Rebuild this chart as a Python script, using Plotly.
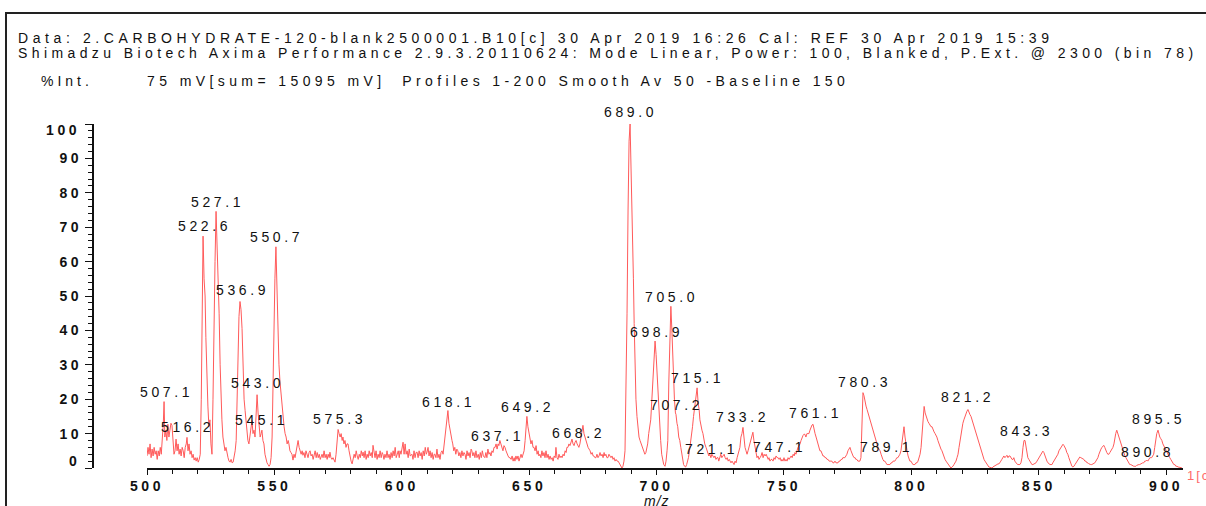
import plotly.graph_objects as go

# ---------------- data ----------------
spectrum_mz = [
    500.0, 500.4, 500.8, 501.2, 501.6, 502.0, 502.4, 502.8, 503.2, 503.6,
    504.0, 504.4, 504.8, 505.2, 505.6, 506.0, 506.4, 506.7, 507.0, 507.4,
    507.8, 508.2, 508.6, 509.0, 509.4, 509.8, 510.2, 510.6, 511.0, 511.4,
    511.8, 512.2, 512.6, 513.0, 513.4, 513.8, 514.2, 514.6, 515.0, 515.4,
    515.7, 516.1, 516.5, 516.9, 517.3, 517.7, 518.1, 518.5, 518.9, 519.3,
    519.7, 520.1, 520.5, 520.9, 521.3, 521.6, 522.0, 522.4, 522.8, 523.1,
    523.5, 523.9, 524.3, 524.7, 525.1, 525.5, 525.9, 526.3, 526.7, 527.1,
    527.5, 527.9, 528.3, 528.7, 529.0, 529.4, 529.8, 530.2, 530.6, 531.0,
    531.4, 531.8, 532.2, 532.6, 533.0, 533.4, 533.8, 534.2, 534.6, 535.0,
    535.4, 535.7, 536.1, 536.5, 536.9, 537.3, 537.7, 538.1, 538.5, 538.9,
    539.2, 539.6, 540.0, 540.4, 540.8, 541.2, 541.6, 542.0, 542.4, 542.8,
    543.2, 543.6, 544.0, 544.4, 544.8, 545.1, 545.5, 545.9, 546.3, 546.7,
    547.1, 547.5, 547.9, 548.3, 548.7, 549.1, 549.5, 549.8, 550.2, 550.6,
    551.0, 551.4, 551.8, 552.2, 552.6, 553.0, 553.4, 553.8, 554.2, 554.6,
    555.0, 555.4, 555.7, 556.1, 556.5, 556.9, 557.3, 557.7, 558.1, 558.5,
    558.9, 559.3, 559.7, 560.1, 560.5, 560.9, 561.2, 561.6, 562.0, 562.4,
    562.8, 563.2, 563.6, 564.0, 564.4, 564.8, 565.2, 565.6, 566.0, 566.4,
    566.8, 567.2, 567.6, 568.0, 568.4, 568.7, 569.1, 569.5, 569.9, 570.3,
    570.7, 571.1, 571.5, 571.8, 572.2, 572.6, 573.0, 573.4, 573.8, 574.2,
    574.6, 575.0, 575.4, 575.8, 576.2, 576.6, 576.9, 577.3, 577.7, 578.1,
    578.5, 578.9, 579.3, 579.7, 580.1, 580.5, 580.9, 581.3, 581.7, 582.1,
    582.5, 582.9, 583.3, 583.7, 584.1, 584.5, 584.8, 585.2, 585.6, 586.0,
    586.4, 586.8, 587.2, 587.6, 588.0, 588.4, 588.7, 589.1, 589.5, 589.9,
    590.3, 590.7, 591.1, 591.5, 591.9, 592.3, 592.6, 593.0, 593.4, 593.8,
    594.2, 594.6, 595.0, 595.4, 595.8, 596.2, 596.6, 597.0, 597.4, 597.8,
    598.2, 598.6, 599.0, 599.3, 599.7, 600.1, 600.5, 600.9, 601.3, 601.7,
    602.1, 602.5, 602.9, 603.3, 603.7, 604.0, 604.4, 604.8, 605.2, 605.6,
    606.0, 606.4, 606.8, 607.2, 607.6, 608.0, 608.4, 608.8, 609.2, 609.6,
    609.9, 610.3, 610.7, 611.1, 611.5, 611.9, 612.3, 612.7, 613.0, 613.4,
    613.8, 614.2, 614.6, 615.0, 615.4, 615.8, 616.2, 616.6, 617.0, 617.3,
    617.7, 618.1, 618.5, 618.9, 619.3, 619.7, 620.0, 620.4, 620.8, 621.2,
    621.6, 622.0, 622.4, 622.8, 623.2, 623.6, 624.0, 624.4, 624.8, 625.2,
    625.6, 626.0, 626.4, 626.8, 627.2, 627.5, 627.9, 628.3, 628.7, 629.1,
    629.5, 630.0, 630.4, 630.8, 631.2, 631.6, 632.0, 632.3, 632.6, 633.0,
    633.4, 633.8, 634.2, 634.6, 635.0, 635.4, 635.8, 636.2, 636.6, 637.0,
    637.4, 637.8, 638.1, 638.5, 638.9, 639.3, 639.7, 640.1, 640.5, 640.9,
    641.3, 641.7, 642.1, 642.5, 642.9, 643.3, 643.7, 644.1, 644.4, 644.8,
    645.2, 645.6, 646.0, 646.4, 646.8, 647.2, 647.6, 648.0, 648.4, 648.7,
    649.1, 649.5, 649.9, 650.3, 650.7, 651.1, 651.5, 651.9, 652.3, 652.7,
    653.1, 653.5, 653.8, 654.2, 654.6, 655.0, 655.4, 655.8, 656.2, 656.6,
    657.0, 657.4, 657.8, 658.2, 658.6, 659.0, 659.4, 659.8, 660.2, 660.5,
    660.9, 661.3, 661.7, 662.1, 662.5, 662.9, 663.3, 663.7, 664.1, 664.5,
    664.8, 665.2, 665.6, 666.0, 666.4, 666.8, 667.2, 667.6, 668.0, 668.4,
    668.8, 669.1, 669.5, 669.9, 670.3, 670.7, 671.1, 671.5, 671.9, 672.3,
    672.7, 673.1, 673.5, 673.9, 674.3, 674.7, 675.1, 675.4, 675.8, 676.2,
    676.6, 677.0, 677.4, 677.8, 678.2, 678.6, 679.0, 679.4, 679.7, 680.1,
    680.5, 680.9, 681.3, 681.7, 682.1, 682.5, 682.9, 683.3, 683.7, 684.1,
    684.5, 684.9, 685.3, 685.7, 686.0, 686.4, 686.8, 687.2, 687.6, 688.0,
    688.4, 688.8, 689.2, 689.6, 690.0, 690.3, 690.6, 690.9, 691.2, 691.5,
    691.9, 692.3, 692.7, 693.1, 693.5, 693.9, 694.3, 694.7, 695.1, 695.4,
    695.8, 696.2, 696.5, 696.9, 697.3, 697.7, 698.0, 698.3, 698.7, 699.0,
    699.4, 699.8, 700.1, 700.5, 700.9, 701.2, 701.6, 702.0, 702.4, 702.8,
    703.3, 703.7, 704.1, 704.4, 704.8, 705.2, 705.6, 706.0, 706.3, 706.7,
    707.0, 707.4, 707.6, 708.0, 708.3, 708.7, 709.1, 709.5, 709.9, 710.2,
    710.6, 711.0, 711.4, 711.8, 712.2, 712.5, 712.9, 713.3, 713.7, 714.1,
    714.5, 714.9, 715.3, 715.6, 715.9, 716.3, 716.7, 717.0, 717.4, 717.8,
    718.2, 718.6, 718.9, 719.4, 719.8, 720.1, 720.5, 720.9, 721.3, 721.7,
    722.1, 722.5, 722.9, 723.3, 723.7, 724.1, 724.4, 724.8, 725.2, 725.6,
    726.0, 726.5, 726.9, 727.3, 727.7, 728.1, 728.5, 728.8, 729.2, 729.6,
    730.0, 730.4, 730.8, 731.2, 731.6, 732.0, 732.4, 732.7, 733.1, 733.5,
    733.9, 734.3, 734.7, 735.1, 735.5, 735.9, 736.3, 736.7, 737.1, 737.4,
    737.8, 738.2, 738.6, 739.0, 739.4, 739.8, 740.2, 740.6, 741.0, 741.4,
    741.8, 742.2, 742.6, 743.0, 743.4, 743.8, 744.1, 744.5, 744.9, 745.3,
    745.7, 746.1, 746.5, 746.9, 747.3, 747.7, 748.1, 748.5, 748.9, 749.2,
    749.6, 750.0, 750.4, 750.8, 751.2, 751.6, 752.0, 752.4, 752.8, 753.2,
    753.6, 754.0, 754.3, 754.7, 755.1, 755.5, 755.9, 756.3, 756.7, 757.1,
    757.5, 757.8, 758.2, 758.6, 759.0, 759.4, 759.8, 760.2, 760.6, 761.0,
    761.4, 761.8, 762.2, 762.6, 763.0, 763.3, 763.7, 764.1, 764.5, 764.9,
    765.3, 765.7, 766.1, 766.5, 766.9, 767.3, 767.7, 768.1, 768.4, 768.8,
    769.2, 769.6, 770.0, 770.4, 770.8, 771.2, 771.6, 772.0, 772.4, 772.8,
    773.1, 773.5, 773.9, 774.3, 774.7, 775.1, 775.5, 775.9, 776.3, 776.7,
    777.1, 777.5, 777.9, 778.2, 778.6, 779.0, 779.4, 779.8, 780.2, 780.6,
    781.0, 781.4, 781.8, 782.2, 782.6, 783.0, 783.3, 783.7, 784.1, 784.5,
    784.9, 785.3, 785.7, 786.1, 786.5, 786.9, 787.3, 787.7, 788.1, 788.4,
    788.8, 789.2, 789.6, 790.0, 790.4, 790.8, 791.2, 791.6, 792.0, 792.4,
    792.8, 793.2, 793.5, 793.9, 794.3, 794.7, 795.1, 795.5, 795.9, 796.3,
    796.7, 797.1, 797.5, 797.9, 798.3, 798.7, 799.0, 799.4, 799.8, 800.2,
    800.6, 801.0, 801.4, 801.8, 802.2, 802.6, 803.0, 803.4, 803.8, 804.2,
    804.6, 805.0, 805.4, 805.8, 806.1, 806.5, 806.9, 807.3, 807.7, 808.1,
    808.5, 808.9, 809.3, 809.7, 810.0, 810.4, 810.8, 811.2, 811.6, 812.0,
    812.4, 812.8, 813.2, 813.6, 814.0, 814.4, 814.8, 815.1, 815.5, 815.9,
    816.3, 816.7, 817.1, 817.5, 817.9, 818.3, 818.7, 819.1, 819.5, 819.9,
    820.2, 820.6, 821.0, 821.4, 821.8, 822.2, 822.6, 823.0, 823.4, 823.8,
    824.2, 824.6, 825.0, 825.3, 825.7, 826.1, 826.5, 826.9, 827.3, 827.7,
    828.1, 828.5, 828.9, 829.3, 829.7, 830.1, 830.4, 830.8, 831.2, 831.6,
    832.0, 832.4, 832.8, 833.2, 833.6, 834.0, 834.4, 834.8, 835.1, 835.5,
    835.9, 836.3, 836.7, 837.1, 837.5, 837.9, 838.3, 838.7, 839.1, 839.5,
    839.9, 840.2, 840.6, 841.0, 841.4, 841.8, 842.2, 842.6, 843.0, 843.4,
    843.8, 844.2, 844.6, 845.0, 845.3, 845.7, 846.1, 846.5, 846.9, 847.3,
    847.7, 848.1, 848.5, 848.9, 849.3, 849.7, 850.1, 850.4, 850.8, 851.2,
    851.6, 852.0, 852.4, 852.8, 853.2, 853.6, 854.0, 854.4, 854.8, 855.2,
    855.5, 855.9, 856.3, 856.7, 857.1, 857.5, 857.9, 858.3, 858.7, 859.1,
    859.5, 859.9, 860.3, 860.6, 861.0, 861.4, 861.8, 862.2, 862.6, 863.0,
    863.4, 863.8, 864.2, 864.6, 865.0, 865.3, 865.7, 866.1, 866.5, 866.9,
    867.3, 867.7, 868.1, 868.5, 868.9, 869.3, 869.7, 870.0, 870.4, 870.8,
    871.2, 871.6, 872.0, 872.4, 872.8, 873.2, 873.6, 874.0, 874.4, 874.8,
    875.1, 875.5, 875.9, 876.3, 876.7, 877.1, 877.5, 877.9, 878.3, 878.7,
    879.1, 879.5, 879.9, 880.2, 880.6, 881.0, 881.4, 881.8, 882.2, 882.6,
    883.0, 883.4, 883.8, 884.2, 884.6, 884.9, 885.3, 885.7, 886.1, 886.5,
    886.9, 887.3, 887.7, 888.1, 888.5, 888.9, 889.3, 889.6, 890.0, 890.4,
    890.8, 891.2, 891.6, 892.0, 892.4, 892.8, 893.2, 893.6, 894.0, 894.3,
    894.7, 895.1, 895.5, 895.9, 896.3, 896.8, 897.1, 897.5, 897.9, 898.3,
    898.7, 899.0, 899.4, 899.8, 900.2, 900.6, 901.0, 901.4, 901.8, 902.2,
    902.6, 903.0, 903.4, 903.8, 904.2, 904.6, 905.0, 905.4, 905.8, 906.2,
]

spectrum_int = [
    3.5, 6, 4, 7, 3, 5.5, 3.5, 6, 4, 5,
    2.5, 5, 3.5, 6, 4, 8, 13, 19.3, 9, 11,
    8, 12.7, 9, 11, 13, 12.4, 6, 4, 5, 8.4,
    5, 7, 4, 5.5, 3.5, 6, 5, 3, 6, 7,
    8.9, 5, 7, 4, 5, 3, 4, 2.3, 3, 2,
    3, 1.7, 2.5, 4, 20, 43, 67.4, 55, 50, 38,
    26, 18, 12, 14, 7, 4, 20, 45, 60, 74.6,
    65.7, 58, 45, 30, 21, 14, 9, 7, 5, 6,
    4, 3, 2, 1.7, 2.5, 1.5, 1.7, 3, 5, 8,
    20, 35.7, 44, 48.4, 46, 40.6, 26, 20, 16.7, 13,
    11, 8, 7, 9, 12, 13.8, 10, 11, 9, 15,
    21.3, 16, 12.7, 9, 10, 11, 8, 7, 4, 2.3,
    1.5, 1, 0.5, 1, 3, 9, 25, 45, 55, 64.3,
    50, 40, 30, 25, 21.3, 18, 14.7, 12, 10, 9,
    7, 8, 7, 5, 4.5, 4, 2.3, 4, 3, 5,
    6, 8, 6, 5, 4, 5, 3.7, 4.5, 3, 5,
    4, 3, 4.5, 5, 3.5, 4, 2.5, 3.5, 5, 3,
    4.5, 3, 4, 2.5, 3.5, 4, 3, 5, 3, 4,
    2.5, 4, 3, 4.6, 3, 2.5, 3, 2, 1.7, 4,
    8, 11.2, 10, 9, 10, 8, 9, 7, 8, 6,
    7, 7, 5, 3, 2, 1.2, 2.5, 4, 3, 5,
    3.5, 2.5, 4, 3, 5, 3.5, 4.6, 3, 5, 2.5,
    4, 3, 5, 3.5, 4.5, 3, 6.6, 4, 3, 5,
    2.5, 4, 3, 5, 3, 4.5, 4, 2.5, 4, 3,
    5, 3, 4, 2.5, 4.5, 3, 5, 3.5, 6, 3,
    4.5, 5, 3, 5, 4, 6, 7.5, 4, 7, 4,
    5, 3, 5.5, 3.5, 4, 4, 2.5, 5, 3, 4.5,
    4.6, 3, 5, 3.5, 4.5, 2.5, 5, 3.5, 6, 4,
    4.6, 6, 3.5, 5, 3, 4.5, 2.5, 4, 4, 3,
    5.5, 3, 4, 2.5, 4.5, 5, 4, 7, 10, 12,
    15, 16.7, 13, 11, 9, 8, 7, 5, 6, 4,
    5.5, 5, 3.5, 4.5, 3, 5, 3.5, 4.5, 4, 2.5,
    5, 3.5, 4.5, 3, 5.5, 5, 3.5, 4.5, 3, 5,
    3, 4, 2.5, 4.5, 3, 5, 3.5, 3, 3, 4.5,
    3, 5.5, 4, 4.5, 3.5, 5, 4.5, 6, 6, 7,
    5.5, 7, 6.5, 8, 7, 6, 5, 6.5, 6, 5,
    4, 3.5, 3, 3, 2.5, 3.5, 2, 3, 2, 3.5,
    2.5, 3.5, 2, 3, 4, 3, 4.5, 5, 8, 12,
    15, 12, 10, 9, 7, 8, 6, 6, 5, 6.5,
    4, 5, 3.5, 4, 3, 5, 3.5, 4.5, 3, 5,
    3, 4, 2.5, 3.5, 2.5, 3, 2, 3.5, 3, 6,
    3, 2.5, 4, 3, 3.5, 3, 4, 3.5, 5, 4.5,
    6, 6, 7, 6.5, 8, 8.4, 7, 6.5, 7.5, 8,
    7, 6.5, 6, 7, 9, 11, 12.4, 10, 9, 8,
    6.5, 6, 5.5, 5, 4, 4.5, 3.5, 3.5, 3, 3,
    4, 3, 3.5, 4.5, 3.5, 4, 3, 4.5, 3.5, 4,
    3, 3, 4, 3.5, 3, 3.5, 2.5, 3, 2, 2.5,
    2, 2, 1.5, 1, 0.5, 0, 0.5, 2, 5, 20,
    45, 75, 95, 100, 88, 78, 72, 55, 42, 30,
    20, 15, 11, 9, 8, 7, 6, 5, 4.5, 4,
    4.5, 6, 7, 10, 12, 14, 18, 22, 28, 34,
    36.9, 33, 28, 22, 15, 12, 8, 4, 2, 1,
    0.5, 2, 5, 8, 25, 42, 47, 40, 33, 25,
    20, 16, 15.6, 13, 12, 9, 8, 6, 4, 2,
    1, 0.5, 0.3, 1, 2, 3, 5, 7, 9, 12,
    15, 18, 21, 22, 23.3, 19, 17, 14, 12, 11,
    10, 8, 7, 6, 5, 4.5, 3.5, 4, 3, 4,
    3.5, 3, 3.5, 2.5, 3, 3, 2, 3, 4, 3,
    3.5, 4, 3, 2.5, 3, 2, 2.5, 2, 1.5, 2,
    1.5, 1, 2, 1.5, 3, 4, 5, 6, 9, 10,
    11.8, 8, 6, 5, 4, 5, 6, 7, 8.5, 9.5,
    10.4, 8, 6, 4, 3, 3.5, 2.5, 3, 3.5, 4.5,
    3, 4, 3.5, 4, 3, 2.5, 3, 2, 2.5, 2.5,
    2, 3, 2.5, 3.5, 3, 3, 2.5, 3, 2, 2.5,
    2, 3, 2, 2.5, 2, 3, 2.5, 3, 3.5, 3,
    4, 3.5, 4.5, 4, 5.5, 6, 6.5, 7, 8, 9,
    9.5, 9.8, 9.8, 9, 10, 10, 10, 11, 12, 12.5,
    12.7, 11, 10, 9, 8, 7, 6, 5, 5, 4,
    3.5, 3.5, 3, 3, 2.5, 2.5, 2, 2, 2, 2,
    1.5, 1.5, 2, 1.5, 1.5, 1.5, 2, 2, 2.5, 2.5,
    3, 3, 3, 3.5, 4, 5, 5.5, 6, 5, 4,
    3.5, 3, 3, 2.5, 2.5, 2, 2, 2, 3, 12,
    21.9, 21, 19, 18, 17, 16, 15, 14, 12.5, 11.5,
    10.5, 9.5, 9, 8, 7, 6, 5.5, 5, 4, 3,
    2.5, 2, 2, 1.5, 1, 1, 1, 1, 1.5, 1.5,
    2, 2, 2, 2.5, 3, 3, 3.5, 4, 5, 7,
    10, 12, 9, 6, 5, 3.5, 2.5, 2, 2, 1.5,
    1, 1, 1, 1.5, 1.5, 2, 3, 4, 6, 10,
    15, 17.9, 16, 15, 14, 13.5, 13, 12.5, 12, 12,
    11, 10.5, 10, 9.5, 9, 8, 7, 6, 5.5, 5,
    4, 3, 2.5, 2, 1.5, 1, 0.5, 0.2, 0, 0.3,
    0.5, 1, 1.5, 2, 3, 4, 6, 8, 10, 12,
    13, 14, 15, 16, 16.5, 17, 16, 15.5, 15, 14,
    13, 12, 11, 10, 9, 8, 7, 6, 5, 4,
    3, 2.5, 2, 1.5, 1, 0.5, 0.3, 0.2, 0, 0,
    0.3, 0.5, 0.8, 1, 1, 1.2, 1.2, 1.5, 2, 2.5,
    3, 3.5, 3, 3.5, 3.7, 3, 3.5, 3.5, 3, 2.5,
    2.5, 3, 2, 1.5, 1.2, 1, 1, 1, 1.5, 3,
    6, 8, 8, 6, 4, 3, 2.5, 2, 1.5, 1,
    1, 1.2, 1.5, 1.5, 2, 2.5, 3, 3.5, 4, 4.5,
    4.9, 4.5, 3.5, 2.5, 2, 1.5, 1.2, 1, 1, 1,
    1.5, 2, 2.5, 3, 3.5, 4, 5, 5.5, 6, 6.5,
    6.9, 6.5, 6, 5.5, 4.5, 4, 3, 2, 1.5, 0.5,
    0.3, 0.5, 1, 1.5, 2, 2.5, 3, 3.2, 3, 2.8,
    2.5, 2.5, 2, 2, 1.5, 1.5, 1.2, 1, 1, 1,
    1.2, 1.5, 1.5, 2, 2.5, 3, 4, 5, 5.5, 6,
    6.3, 6.6, 6, 5, 4.5, 4, 4, 4.5, 5, 5.5,
    6, 7, 9, 10, 11, 10, 9, 8, 7, 6,
    5, 4, 3.5, 3, 2.5, 2, 1.5, 1, 1, 0.8,
    0.5, 0.5, 0.5, 0.5, 0.8, 1, 1, 1, 1.2, 1.2,
    1.5, 1.5, 2, 2, 2.3, 2, 2.5, 3, 3, 3,
    3.5, 4, 6, 9, 10, 11, 10, 9, 8.5, 8,
    7, 6.5, 6, 5.5, 5, 4, 3.5, 3, 2.5, 2,
    1.5, 1, 1, 0.5, 0.5, 0.3, 0.2, 0.2, 0, 0,
]

peak_labels = ["507.1", "516.2", "522.6", "527.1", "536.9", "543.0", "545.1",
               "550.7", "575.3", "618.1", "637.1", "649.2", "668.2", "689.0",
               "698.9", "705.0", "707.2", "715.1", "721.1", "733.2", "747.1",
               "761.1", "780.3", "789.1", "821.2", "843.3", "890.8", "895.5"]
peak_label_mz = [507.5, 515.7, 522.4, 527.5, 537.3, 543.2, 545.1,
                 551.0, 575.4, 618.5, 637.4, 649.5, 669.2, 689.6,
                 699.8, 706.0, 708.0, 715.9, 721.7, 733.9, 748.4,
                 762.2, 781.4, 790.4, 822.2, 845.0, 892.5, 896.8]
peak_label_int = [19.9, 9.5, 68.0, 74.9, 49.3, 22.5, 11.5,
                  64.8, 11.8, 17.0, 6.9, 15.3, 7.8, 101.2,
                  37.2, 47.3, 16.1, 23.9, 3.2, 12.4, 3.7,
                  13.8, 22.8, 3.7, 18.2, 8.4, 2.3, 11.8]

x_tick_vals = [500, 550, 600, 650, 700, 750, 800, 850, 900]
y_tick_vals = [0, 10, 20, 30, 40, 50, 60, 70, 80, 90, 100]

header_line1 = "Data: 2.CARBOHYDRATE-120-blank2500001.B10[c] 30 Apr 2019 16:26 Cal: REF 30 Apr 2019 15:39"
header_line2 = "Shimadzu Biotech Axima Performance 2.9.3.20110624: Mode Linear, Power: 100, Blanked, P.Ext. @ 2300 (bin 78)"
header_yunit = "%Int."
header_line3 = "75 mV[sum= 15095 mV]  Profiles 1-200 Smooth Av 50 -Baseline 150"
x_title = "m/z"
trace_tag = "1[c]"

# ---------------- geometry / style ----------------
W, H = 1206, 506
L, R, T, B = 92, 1183, 124, 471
FONT = "Liberation Sans, Arial, sans-serif"
LS = "letter-spacing:3.6px"
PX_PER_UNIT = (B - T) / 100.0


def spaced(t, ls=LS):
    return f"<span style='{ls}'>{t}</span>"


def fx(px):
    return (px - L) / (R - L)


def fy(py):
    return (B - py) / (B - T)


fig = go.Figure()
fig.add_trace(go.Scatter(
    x=spectrum_mz, y=spectrum_int, mode="lines",
    line=dict(color="#ff5a5a", width=1),
    hoverinfo="skip", showlegend=False,
))

annotations = []
for t, x, y in zip(peak_labels, peak_label_mz, peak_label_int):
    annotations.append(dict(
        x=x, y=min(y, 100), xref="x", yref="y", text=spaced(t), showarrow=False,
        xanchor="center", yanchor="bottom",
        yshift=-2 + max(0.0, y - 100) * PX_PER_UNIT,
        font=dict(family=FONT, size=14, color="#111111"),
    ))

hdr_font = dict(family=FONT, size=14, color="#111111")
annotations += [
    dict(x=fx(16), y=fy(37), xref="paper", yref="paper",
         text=spaced(header_line1, "letter-spacing:4.6px"),
         showarrow=False, xanchor="left", yanchor="middle", font=hdr_font),
    dict(x=fx(16), y=fy(52), xref="paper", yref="paper",
         text=spaced(header_line2, "letter-spacing:4.4px"),
         showarrow=False, xanchor="left", yanchor="middle", font=hdr_font),
    dict(x=fx(39), y=fy(81), xref="paper", yref="paper",
         text=spaced(header_yunit, "letter-spacing:4px"),
         showarrow=False, xanchor="left", yanchor="middle", font=hdr_font),
    dict(x=fx(145), y=fy(81), xref="paper", yref="paper",
         text=spaced(header_line3, "letter-spacing:4.4px"),
         showarrow=False, xanchor="left", yanchor="middle", font=hdr_font),
    # end labels of the y axis are pulled inside the axis span
    dict(x=fx(82), y=fy(464), xref="paper", yref="paper", text=spaced("0"),
         showarrow=False, xanchor="right", yanchor="middle",
         font=dict(family=FONT, size=14, color="#111111", weight="bold")),
    dict(x=fx(82), y=fy(130), xref="paper", yref="paper", text=spaced("100"),
         showarrow=False, xanchor="right", yanchor="middle",
         font=dict(family=FONT, size=14, color="#111111", weight="bold")),
    dict(x=fx(657), y=fy(494), xref="paper", yref="paper",
         text=spaced(x_title, "letter-spacing:1px"),
         showarrow=False, xanchor="center", yanchor="top",
         font=dict(family=FONT, size=14, color="#111111", style="italic")),
    dict(x=fx(1185), y=fy(479), xref="paper", yref="paper",
         text=spaced(trace_tag, "letter-spacing:2px"),
         showarrow=False, xanchor="left", yanchor="middle",
         font=dict(family=FONT, size=13, color="#ff6a6a")),
]

fig.update_layout(
    width=W, height=H,
    margin=dict(l=L, r=W - R, t=T, b=H - B, pad=0),
    paper_bgcolor="white", plot_bgcolor="white",
    showlegend=False,
    annotations=annotations,
    shapes=[dict(type="rect", xref="paper", yref="paper",
                 x0=fx(6), x1=fx(1240), y0=fy(560), y1=fy(12),
                 line=dict(color="#222222", width=2), layer="above")],
    xaxis=dict(
        domain=[fx(147), 1], range=[500, 906.6],
        showline=True, linecolor="#111111", linewidth=1.5,
        showgrid=False, zeroline=False,
        ticks="outside", ticklen=5, tickwidth=1, tickcolor="#111111",
        tickmode="array", tickvals=x_tick_vals,
        ticktext=[spaced(str(v)) for v in x_tick_vals],
        tickfont=dict(family=FONT, size=14, color="#111111", weight="bold"),
        minor=dict(dtick=10, tick0=500, ticks="outside", ticklen=4,
                   tickwidth=1, tickcolor="#111111", showgrid=False),
        fixedrange=True,
    ),
    yaxis=dict(
        domain=[0, 1], range=[0, 100], anchor="free", position=0,
        showline=True, linecolor="#111111", linewidth=1.5,
        showgrid=False, zeroline=False,
        ticks="outside", ticklen=7, tickwidth=1, tickcolor="#111111",
        tickmode="array", tickvals=y_tick_vals,
        ticktext=["" if v in (0, 100) else spaced(str(v)) for v in y_tick_vals],
        tickfont=dict(family=FONT, size=14, color="#111111", weight="bold"),
        minor=dict(dtick=2, tick0=0, ticks="outside", ticklen=4,
                   tickwidth=1, tickcolor="#111111", showgrid=False),
        fixedrange=True,
    ),
)

fig.write_html(
    "out.html",
    config={"displayModeBar": False, "staticPlot": True},
    post_script="document.body.style.margin='0';document.body.style.overflow='hidden';",
)
